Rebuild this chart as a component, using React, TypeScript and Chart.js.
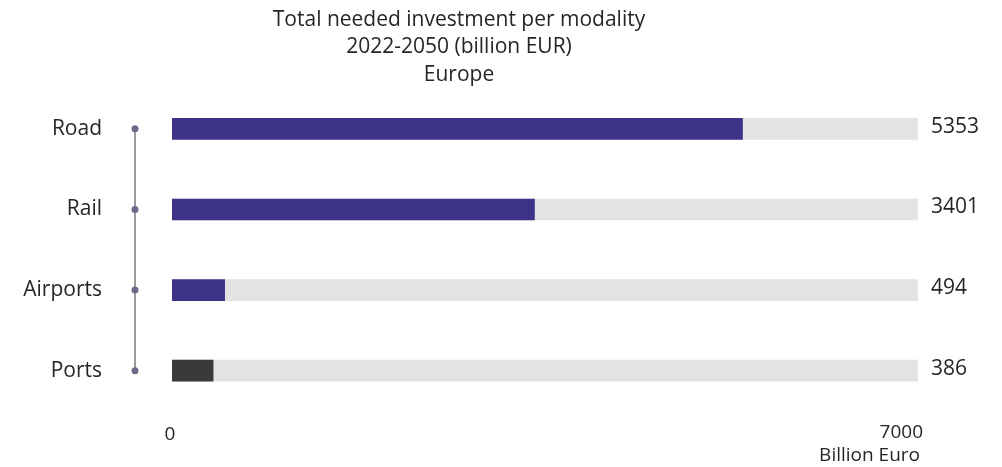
import React, { useEffect, useRef } from "react";
import { Chart, registerables } from "chart.js";

Chart.register(...registerables);

const categories = ["Road", "Rail", "Airports", "Ports"];
const investment = [5353, 3401, 494, 386];
const axisMax = 7000;
const trackValues = [7000, 7000, 7000, 7000];
const titleLines = ["Total needed investment per modality", "2022-2050 (billion EUR)", "Europe"];
const xTickLabels = ["0", "7000"];
const xAxisTitle = "Billion Euro";

const FONT = "'Open Sans', sans-serif";
const TEXT = "#262626";

const decorPlugin = {
  id: "decor",
  afterDraw(chart: any) {
    const ctx = chart.ctx;
    const ys = chart.scales.y;
    const xs = chart.scales.x;
    const area = chart.chartArea;
    const lineX = area.left - 37;
    const yTop = ys.getPixelForValue(0);
    const yBot = ys.getPixelForValue(categories.length - 1);
    ctx.save();
    ctx.strokeStyle = "#7a7a7a";
    ctx.lineWidth = 1.5;
    ctx.beginPath();
    ctx.moveTo(lineX, yTop);
    ctx.lineTo(lineX, yBot);
    ctx.stroke();
    ctx.fillStyle = "#6b6a8a";
    categories.forEach((_, i) => {
      const y = ys.getPixelForValue(i);
      ctx.beginPath();
      ctx.arc(lineX, y, 3.5, 0, Math.PI * 2);
      ctx.fill();
    });
    // value labels
    ctx.fillStyle = TEXT;
    ctx.font = `21px ${FONT}`;
    ctx.textAlign = "left";
    ctx.textBaseline = "middle";
    investment.forEach((v, i) => {
      const y = ys.getPixelForValue(i);
      ctx.fillText(String(v), area.right + 13, y - 2);
    });
    // x ticks
    const x0 = xs.getPixelForValue(0);
    const x1 = xs.getPixelForValue(axisMax);
    ctx.font = `19px ${FONT}`;
    ctx.textBaseline = "middle";
    ctx.textAlign = "center";
    ctx.fillText(xTickLabels[0], x0 - 2, area.bottom + 24);
    ctx.textAlign = "right";
    ctx.fillText(xTickLabels[1], x1 + 5, area.bottom + 22);
    ctx.fillText(xAxisTitle, x1 + 2, area.bottom + 45);
    ctx.restore();
  },
};

export default function App() {
  const ref = useRef<HTMLCanvasElement | null>(null);
  useEffect(() => {
    document.body.style.margin = "0";
    const c = ref.current;
    if (!c) return;
    const chart = new Chart(c, {
      type: "bar",
      data: {
        labels: categories,
        datasets: [
          {
            label: "Investment",
            data: investment,
            backgroundColor: categories.map((c) => (c === "Ports" ? "#3a3a3a" : "#3d3389")),
            barThickness: 21,
            grouped: false,
            order: 1,
          } as any,
          {
            label: "Track",
            data: trackValues,
            backgroundColor: "#e3e3e3",
            barThickness: 21,
            grouped: false,
            order: 2,
          } as any,
        ],
      },
      options: {
        indexAxis: "y",
        animation: false,
        responsive: false,
        maintainAspectRatio: false,
        layout: { padding: { left: 0, right: 84, top: 0, bottom: 56 } },
        plugins: {
          legend: { display: false },
          tooltip: { enabled: false },
          title: {
            display: true,
            text: titleLines,
            color: TEXT,
            font: { family: FONT, size: 21, weight: "500", lineHeight: 1.31 },
            padding: { top: 6, bottom: 0 },
          },
        },
        scales: {
          x: { display: false, min: 0, max: axisMax },
          y: {
            grid: { display: false },
            border: { display: false },
            ticks: { color: TEXT, font: { family: FONT, size: 21 }, padding: 62 },
            afterFit: (s: any) => {
              s.width = 172;
              s.paddingTop = 0;
              s.paddingBottom = 0;
            },
          },
        },
      },
      plugins: [decorPlugin],
    });
    return () => chart.destroy();
  }, []);
  return <canvas ref={ref} width={1002} height={467} style={{ display: "block" }} />;
}
